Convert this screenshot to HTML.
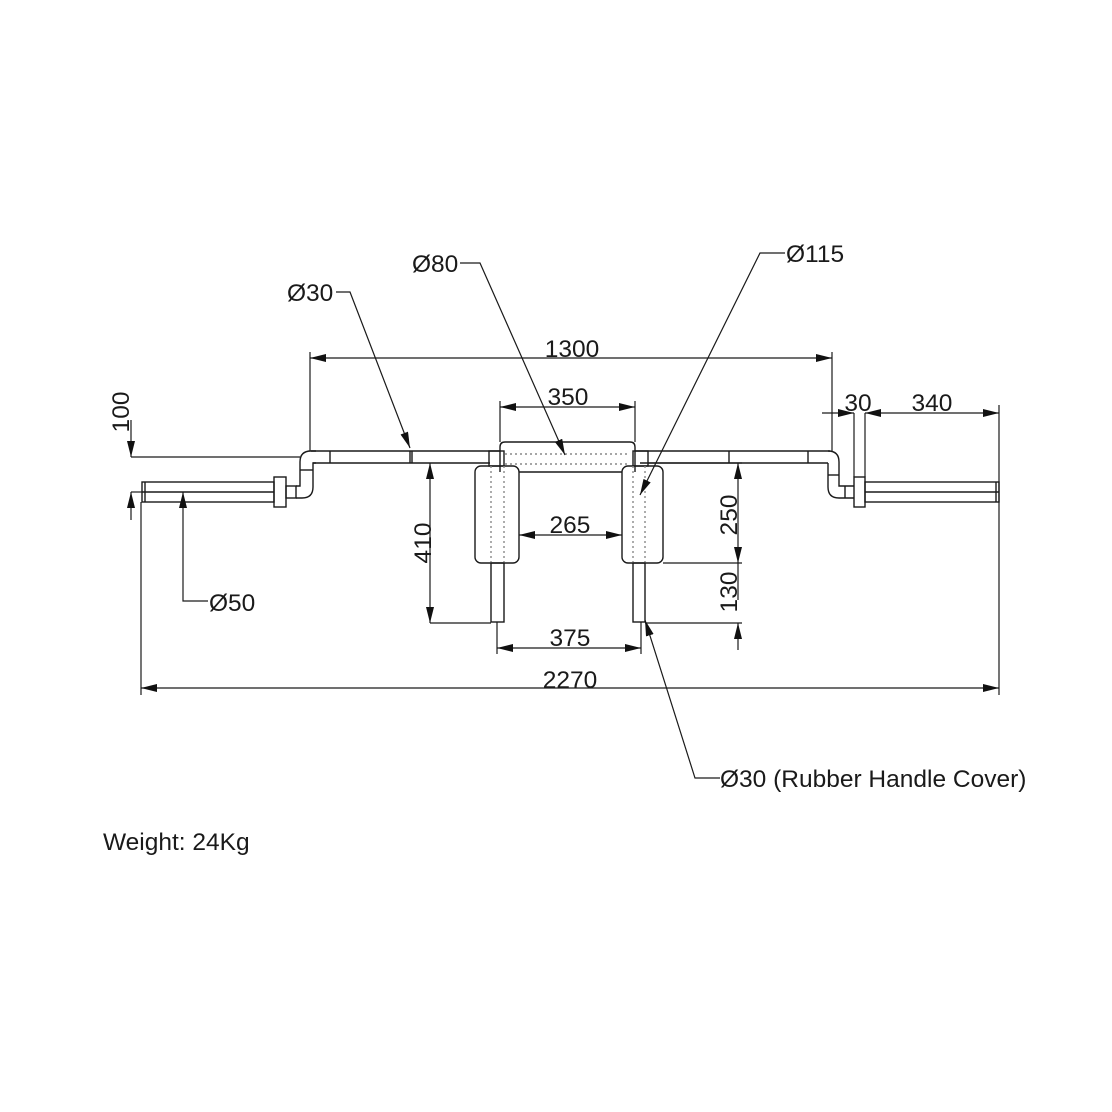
<!DOCTYPE html>
<html><head><style>
html,body{margin:0;padding:0;background:#fff;}
svg{display:block;}
text{font-family:"Liberation Sans",sans-serif;font-size:24.5px;fill:#1a1a1a;}
</style></head><body>
<svg width="1112" height="1112" viewBox="0 0 1112 1112" xmlns="http://www.w3.org/2000/svg">
<defs>
<marker id="a" viewBox="0 0 16 8" refX="16" refY="4" markerWidth="16" markerHeight="8" markerUnits="userSpaceOnUse" orient="auto-start-reverse"><path d="M0,0 L16,4 L0,8 z" fill="#111"/></marker>
</defs>
<g stroke="#1a1a1a" stroke-width="1.4" fill="none">
<rect x="142" y="482" width="132" height="20"/>
<line x1="145" y1="482" x2="145" y2="502"/>
<rect x="274" y="477" width="12" height="30"/>
<rect x="286" y="486" width="10" height="12"/>
<path d="M296,486 L300,486 L300,462 Q300,451 311,451 L316,451"/>
<path d="M296,498 L302,498 Q313,498 313,487 L313,463 L316,463"/>
<line x1="300" y1="470" x2="313" y2="470"/>
<line x1="311" y1="451" x2="500" y2="451"/>
<line x1="313" y1="463" x2="490" y2="463"/>
<line x1="635" y1="451" x2="830" y2="451"/>
<line x1="640" y1="463" x2="828" y2="463"/>
<line x1="330" y1="451" x2="330" y2="463"/>
<line x1="410" y1="451" x2="410" y2="463"/>
<line x1="412" y1="451" x2="412" y2="463"/>
<line x1="729" y1="451" x2="729" y2="463"/>
<line x1="808" y1="451" x2="808" y2="463"/>
<path d="M828,451 Q839,451 839,462 L839,486 L854,486"/>
<path d="M828,463 L828,487 Q828,498 839,498 L854,498"/>
<line x1="828" y1="475" x2="839" y2="475"/>
<line x1="845" y1="486" x2="845" y2="498"/>
<rect x="854" y="477" width="11" height="30"/>
<rect x="865" y="482" width="134" height="20"/>
<line x1="996" y1="482" x2="996" y2="502"/>
<line x1="865" y1="492" x2="999" y2="492"/>
<line x1="142" y1="492" x2="274" y2="492"/>
<path d="M500,472 L500,447 Q500,442 505,442 L630,442 Q635,442 635,447 L635,472"/>
<line x1="505" y1="454" x2="630" y2="454" stroke-dasharray="2,3" stroke="#888"/>
<line x1="505" y1="464" x2="630" y2="464" stroke-dasharray="2,3" stroke="#888"/>
<line x1="519" y1="472" x2="622" y2="472"/>
<rect x="489" y="451" width="15" height="15"/>
<rect x="475" y="466" width="44" height="97" rx="6"/>
<line x1="491" y1="466" x2="491" y2="563" stroke-dasharray="2,3" stroke="#888"/>
<line x1="504" y1="466" x2="504" y2="563" stroke-dasharray="2,3" stroke="#888"/>
<rect x="491" y="563" width="13" height="59"/>
<rect x="633" y="451" width="15" height="15"/>
<rect x="622" y="466" width="41" height="97" rx="6"/>
<line x1="633" y1="466" x2="633" y2="563" stroke-dasharray="2,3" stroke="#888"/>
<line x1="645" y1="466" x2="645" y2="563" stroke-dasharray="2,3" stroke="#888"/>
<rect x="633" y="563" width="12" height="59"/>
</g>
<g stroke="#1a1a1a" stroke-width="1.2" fill="none">
<line x1="131" y1="457" x2="300" y2="457"/>
<line x1="131" y1="492" x2="142" y2="492"/>
<line x1="131" y1="420" x2="131" y2="457" marker-end="url(#a)"/>
<line x1="131" y1="520" x2="131" y2="492" marker-end="url(#a)"/>
<line x1="141" y1="502" x2="141" y2="695"/>
<line x1="999" y1="405" x2="999" y2="695"/>
<line x1="141" y1="688" x2="999" y2="688" marker-start="url(#a)" marker-end="url(#a)"/>
<line x1="310" y1="352" x2="310" y2="451"/>
<line x1="832" y1="352" x2="832" y2="451"/>
<line x1="310" y1="358" x2="832" y2="358" marker-start="url(#a)" marker-end="url(#a)"/>
<line x1="854" y1="413" x2="854" y2="477"/>
<line x1="865" y1="413" x2="865" y2="477"/>
<line x1="822" y1="413" x2="854" y2="413" marker-end="url(#a)"/>
<line x1="865" y1="413" x2="999" y2="413" marker-start="url(#a)" marker-end="url(#a)"/>
<line x1="500" y1="401" x2="500" y2="442"/>
<line x1="635" y1="401" x2="635" y2="442"/>
<line x1="500" y1="407" x2="635" y2="407" marker-start="url(#a)" marker-end="url(#a)"/>
<line x1="519" y1="535" x2="622" y2="535" marker-start="url(#a)" marker-end="url(#a)"/>
<line x1="497" y1="622" x2="497" y2="654"/>
<line x1="641" y1="622" x2="641" y2="654"/>
<line x1="497" y1="648" x2="641" y2="648" marker-start="url(#a)" marker-end="url(#a)"/>
<line x1="430" y1="623" x2="491" y2="623"/>
<line x1="430" y1="463" x2="430" y2="623" marker-start="url(#a)" marker-end="url(#a)"/>
<line x1="648" y1="463" x2="742" y2="463"/>
<line x1="663" y1="563" x2="742" y2="563"/>
<line x1="645" y1="623" x2="742" y2="623"/>
<line x1="738" y1="463" x2="738" y2="563" marker-start="url(#a)" marker-end="url(#a)"/>
<line x1="738" y1="563" x2="738" y2="600"/>
<line x1="738" y1="650" x2="738" y2="623" marker-end="url(#a)"/>
<polyline points="208,601 183,601 183,492" marker-end="url(#a)"/>
<polyline points="336,292 350,292 410,448" marker-end="url(#a)"/>
<polyline points="460,263 480,263 565,455" marker-end="url(#a)"/>
<polyline points="785,253 760,253 640,495" marker-end="url(#a)"/>
<polyline points="720,778 695,778 645,620" marker-end="url(#a)"/>
</g>
<text x="287" y="301">Ø30</text>
<text x="412" y="272">Ø80</text>
<text x="786" y="262">Ø115</text>
<text x="572" y="357" text-anchor="middle">1300</text>
<text x="568" y="405" text-anchor="middle">350</text>
<text x="858" y="411" text-anchor="middle">30</text>
<text x="932" y="411" text-anchor="middle">340</text>
<text x="570" y="533" text-anchor="middle">265</text>
<text x="570" y="646" text-anchor="middle">375</text>
<text x="570" y="688" text-anchor="middle">2270</text>
<text x="209" y="611">Ø50</text>
<text x="720" y="787">Ø30 (Rubber Handle Cover)</text>
<text x="103" y="850">Weight: 24Kg</text>
<text transform="translate(129,412) rotate(-90)" text-anchor="middle">100</text>
<text transform="translate(431,543) rotate(-90)" text-anchor="middle">410</text>
<text transform="translate(737,515) rotate(-90)" text-anchor="middle">250</text>
<text transform="translate(737,592) rotate(-90)" text-anchor="middle">130</text>
</svg>
</body></html>
